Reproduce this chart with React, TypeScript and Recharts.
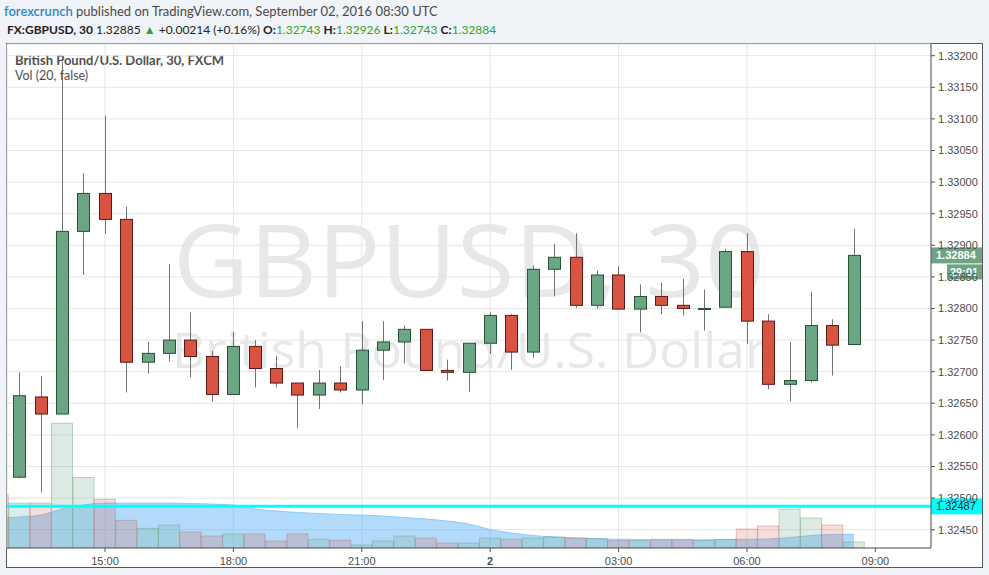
import React from "react";
import { ComposedChart, Bar, Area, XAxis, YAxis, CartesianGrid, ReferenceLine } from "recharts";

// 30 min bars, Sep 01 12:30 UTC -> Sep 02 08:30 UTC.
// 12:30 is only a sliver of volume at the left edge, its candle is off screen.
const TIMES = [
  "12:30", "13:00", "13:30", "14:00", "14:30", "15:00", "15:30", "16:00", "16:30", "17:00", "17:30",
  "18:00", "18:30", "19:00", "19:30", "20:00", "20:30", "21:00", "21:30", "22:00", "22:30",
  "23:00", "23:30", "00:00", "00:30", "01:00", "01:30", "02:00", "02:30", "03:00", "03:30",
  "04:00", "04:30", "05:00", "05:30", "06:00", "06:30", "07:00", "07:30", "08:00", "08:30",
];
const OPEN = [
  null, 1.32533, 1.32660, 1.32633, 1.32922, 1.32982, 1.32941, 1.32715, 1.32729, 1.32750, 1.32724,
  1.32664, 1.32740, 1.32705, 1.32682, 1.32663, 1.32682, 1.32671, 1.32734, 1.32747, 1.32767,
  1.32702, 1.32699, 1.32745, 1.32789, 1.32731, 1.32862, 1.32881, 1.32805, 1.32853, 1.32799,
  1.32819, 1.32805, 1.32800, 1.32802, 1.32890, 1.32780, 1.32680, 1.32686, 1.32773, 1.32743,
];
const HIGH = [
  null, 1.32699, 1.32693, 1.33190, 1.33014, 1.33105, 1.32961, 1.32747, 1.32870, 1.32794, 1.32733,
  1.32763, 1.32750, 1.32725, 1.32682, 1.32703, 1.32708, 1.32780, 1.32780, 1.32773, 1.32767,
  1.32719, 1.32745, 1.32794, 1.32791, 1.32868, 1.32902, 1.32919, 1.32860, 1.32867, 1.32838,
  1.32841, 1.32847, 1.32830, 1.32894, 1.32919, 1.32791, 1.32747, 1.32826, 1.32783, 1.32926,
];
const LOW = [
  null, 1.32531, 1.32509, 1.32633, 1.32853, 1.32918, 1.32667, 1.32697, 1.32716, 1.32691, 1.32653,
  1.32664, 1.32675, 1.32675, 1.32611, 1.32641, 1.32667, 1.32648, 1.32687, 1.32713, 1.32702,
  1.32686, 1.32668, 1.32728, 1.32703, 1.32722, 1.32819, 1.32801, 1.32800, 1.32799, 1.32762,
  1.32791, 1.32789, 1.32765, 1.32802, 1.32744, 1.32672, 1.32653, 1.32683, 1.32694, 1.32743,
];
const CLOSE = [
  null, 1.32662, 1.32633, 1.32922, 1.32982, 1.32941, 1.32715, 1.32729, 1.32750, 1.32724, 1.32664,
  1.32740, 1.32705, 1.32682, 1.32663, 1.32682, 1.32671, 1.32734, 1.32747, 1.32767, 1.32702,
  1.32699, 1.32745, 1.32789, 1.32731, 1.32862, 1.32881, 1.32805, 1.32853, 1.32799, 1.32819,
  1.32805, 1.32800, 1.32800, 1.32890, 1.32780, 1.32680, 1.32686, 1.32773, 1.32742, 1.32884,
];
const VOLUME = [
  530, 450, 450, 1250, 707, 487, 277, 197, 230, 160, 120,
  140, 140, 70, 140, 87, 77, 30, 70, 120, 100,
  50, 50, 100, 87, 100, 110, 100, 93, 73, 73,
  87, 87, 77, 87, 190, 220, 390, 300, 230, 60,
];
// Vol (20) moving average, as drawn
const VOL_MA = [
  300, 310, 330, 390, 430, 450, 450, 450, 450, 445, 440,
  430, 390, 370, 355, 345, 335, 330, 320, 305, 290,
  270, 240, 185, 150, 125, 110, 100, 93, 87, 85,
  80, 80, 80, 85, 87, 90, 105, 125, 135, 137,
];

const PRICE_TICKS = [1.3245, 1.325, 1.3255, 1.326, 1.3265, 1.327, 1.3275, 1.328, 1.3285, 1.329, 1.3295, 1.33, 1.3305, 1.331, 1.3315, 1.332];
const TIME_TICKS = [4, 10, 16, 22, 28, 34, 40];
const TIME_LABELS = ["15:00", "18:00", "21:00", "2", "03:00", "06:00", "09:00"];

const LAST_PRICE = 1.32884;
const ALERT_LEVEL = 1.32487;

const UP_FILL = "#6ba583", UP_BORDER = "#225437";
const DOWN_FILL = "#d75442", DOWN_BORDER = "#5b1a13";
const WICK = "#737375";
const GREEN_TXT = "#37a42c";
const AXIS_FONT = "'Liberation Sans', Arial, sans-serif";

const rows = TIMES.map((t, k) => ({
  i: k - 1, t,
  o: OPEN[k], h: HIGH[k], l: LOW[k], c: CLOSE[k],
  vol: VOLUME[k], ma: VOL_MA[k],
}));

const Candle = (props: any) => {
  const { x, y, width, height, payload } = props;
  if (!payload || payload.o == null) return null;
  const cx = Math.round(x + width / 2) + 0.5;
  const top = Math.min(y, y + height);
  const span = Math.abs(height);
  const range = payload.h - payload.l || 1;
  const at = (v: number) => top + ((payload.h - v) / range) * span;
  const up = payload.c >= payload.o;
  const bTop = at(Math.max(payload.o, payload.c));
  const bBot = at(Math.min(payload.o, payload.c));
  return (
    <g>
      <line x1={cx} x2={cx} y1={top} y2={top + span} stroke={WICK} strokeWidth={1} />
      <rect x={cx - 6} y={bTop} width={12} height={Math.max(bBot - bTop, 1)}
        fill={up ? UP_FILL : DOWN_FILL} stroke={up ? UP_BORDER : DOWN_BORDER} strokeWidth={1} />
    </g>
  );
};

const VolBar = (props: any) => {
  const { x, y, width, height, payload } = props;
  // 12:30 bar closed lower
  const up = payload.c != null && payload.c >= payload.o;
  return (
    <rect x={x} y={y} width={width} height={height}
      fill={up ? "rgba(107,165,131,0.22)" : "rgba(215,84,66,0.2)"}
      stroke={up ? "rgba(107,165,131,0.45)" : "rgba(190,110,100,0.4)"} strokeWidth={1} />
  );
};

const PriceTag = ({ viewBox, text, bg, color, bold }: any) => {
  if (!viewBox) return null;
  const left = viewBox.x + viewBox.width;
  const y = viewBox.y;
  return (
    <g>
      <rect x={left} y={y - 8} width={51} height={16} fill={bg} />
      <text x={left + 5} y={y + 4} fontSize={11} fontFamily={AXIS_FONT} fill={color} fontWeight={bold ? 700 : 400}>{text}</text>
      {bold && (
        <g>
          <rect x={left + 16} y={y + 9} width={35} height={15} fill={bg} />
          <text x={left + 19} y={y + 20.5} fontSize={11} fontFamily={AXIS_FONT} fill={color} fontWeight={700}>29:01</text>
        </g>
      )}
    </g>
  );
};

const TimeTick = ({ x, y, payload }: any) => {
  const idx = TIME_TICKS.indexOf(payload.value);
  const label = TIME_LABELS[idx] ?? "";
  return (
    <text x={x} y={y + 11} textAnchor="middle" fontSize={11} fontFamily={AXIS_FONT}
      fill="#4d4d4d" fontWeight={label === "2" ? 700 : 400}>{label}</text>
  );
};

export default function App() {
  return (
    <div style={{ position: "absolute", left: 0, top: 0, width: 989, height: 575, background: "#f0f3f7", overflow: "hidden", fontFamily: "Lato, 'Open Sans', sans-serif" }}>
      <div style={{ position: "absolute", left: 4, top: 3, fontSize: 13, color: "#4a4a4a", whiteSpace: "nowrap" }}>
        <span style={{ color: "#2f86c4", fontWeight: 600 }}>forexcrunch</span> published on TradingView.com, September 02, 2016 08:30 UTC
      </div>
      <div style={{ position: "absolute", left: 7, top: 22, fontSize: 12, color: "#222", whiteSpace: "nowrap" }}>
        <b>FX:GBPUSD, 30</b> 1.32885 <span style={{ color: GREEN_TXT, fontSize: 12 }}>▲</span> +0.00214 (+0.16%){" "}
        <b>O:</b><span style={{ color: GREEN_TXT }}>1.32743</span>{" "}
        <b>H:</b><span style={{ color: GREEN_TXT }}>1.32926</span>{" "}
        <b>L:</b><span style={{ color: GREEN_TXT }}>1.32743</span>{" "}
        <b>C:</b><span style={{ color: GREEN_TXT }}>1.32884</span>
      </div>

      <div style={{ position: "absolute", left: 6, top: 43, width: 977, height: 525, boxSizing: "border-box", border: "1px solid #555", background: "#fff" }} />

      <svg width={989} height={575} style={{ position: "absolute", left: 0, top: 0 }}>
        <text x={469} y={297} textAnchor="middle" fontSize={100} fontFamily="'Open Sans', sans-serif" fill="#e8e8e8" textLength={592} lengthAdjust="spacingAndGlyphs">GBPUSD, 30</text>
        <text x={469} y={368} textAnchor="middle" fontSize={49} fontFamily="'Open Sans', sans-serif" fill="#e8e8e8" textLength={594} lengthAdjust="spacingAndGlyphs">British Pound/U.S. Dollar</text>
      </svg>

      <div style={{ position: "absolute", left: 15, top: 54, fontSize: 13, lineHeight: "13px", fontWeight: 700, color: "#505050", whiteSpace: "nowrap" }}>British Pound/U.S. Dollar, 30, FXCM</div>
      <div style={{ position: "absolute", left: 15, top: 70, fontSize: 12.5, lineHeight: "12px", color: "#505050", whiteSpace: "nowrap" }}>Vol (20, false)</div>

      <div style={{ position: "absolute", left: 0, top: 0 }}>
        <ComposedChart width={989} height={575} data={rows} barCategoryGap={0}
          margin={{ top: 44, right: 7, bottom: 7, left: 7 }}>
          <CartesianGrid xAxisId="main" yAxisId="price" stroke="#e6e6e6" />
          <XAxis xAxisId="main" dataKey="i" type="number" domain={[-0.58, 42.6]} allowDataOverflow
            ticks={TIME_TICKS} interval={0} height={20} tick={<TimeTick />} tickSize={4}
            tickLine={{ stroke: "#555" }} axisLine={{ stroke: "#555" }} />
          <XAxis xAxisId="vol" dataKey="i" type="number" domain={[-0.58, 42.6]} allowDataOverflow hide />
          <YAxis yAxisId="price" orientation="right" domain={[1.32421, 1.332185]} allowDataOverflow
            ticks={PRICE_TICKS} interval={0} width={51} tickSize={4} tickMargin={3}
            tickFormatter={(v: number) => v.toFixed(5)}
            tick={{ fontSize: 11, fill: "#4d4d4d", fontFamily: AXIS_FONT }}
            tickLine={{ stroke: "#555" }} axisLine={{ stroke: "#555" }} />
          <YAxis yAxisId="vol" domain={[0, 5050]} allowDataOverflow hide />

          <Bar xAxisId="vol" yAxisId="vol" dataKey="vol" shape={<VolBar />} isAnimationActive={false} />
          <Area xAxisId="vol" yAxisId="vol" dataKey="ma" type="monotone" fill="#34a1f5" fillOpacity={0.38}
            stroke="#8ccaf8" strokeWidth={1} dot={false} activeDot={false} isAnimationActive={false} />
          <ReferenceLine xAxisId="main" yAxisId="price" y={ALERT_LEVEL} stroke="#00ffff" strokeWidth={3}
            label={<PriceTag text={ALERT_LEVEL.toFixed(5)} bg="#00ffff" color="#222" />} />
          <Bar xAxisId="main" yAxisId="price" dataKey={(d: any) => (d.o == null ? null : [d.l, d.h])}
            shape={<Candle />} isAnimationActive={false} />
          <ReferenceLine xAxisId="main" yAxisId="price" y={LAST_PRICE} stroke="none" strokeOpacity={0}
            label={<PriceTag text={LAST_PRICE.toFixed(5)} bg={UP_FILL} color="#fff" bold />} />
        </ComposedChart>
      </div>
    </div>
  );
}
